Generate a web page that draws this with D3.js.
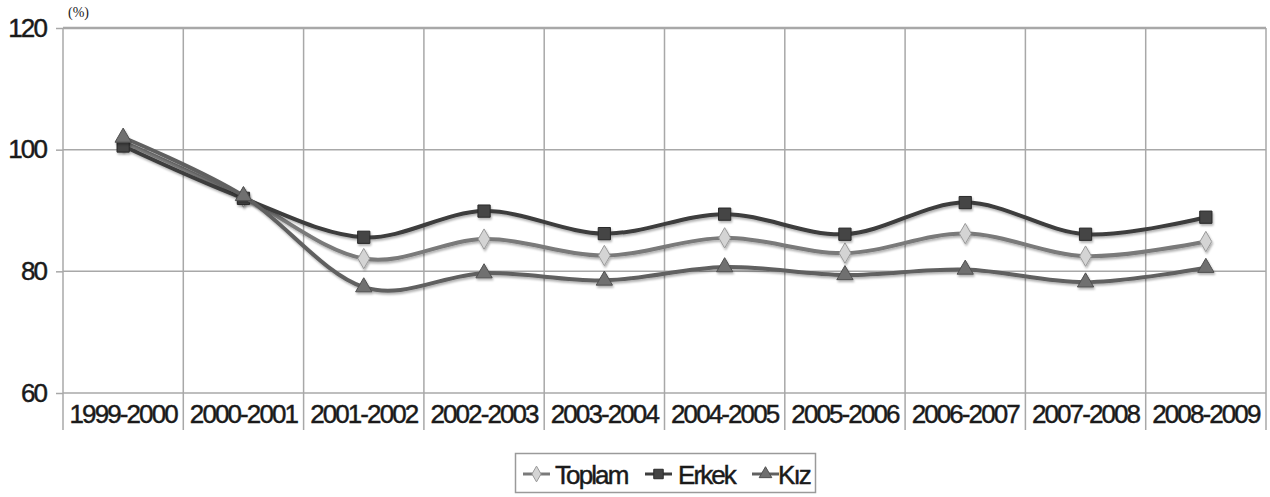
<!DOCTYPE html>
<html>
<head>
<meta charset="utf-8">
<script src="https://cdn.jsdelivr.net/npm/d3@7"></script>
<style>
  html, body { margin: 0; padding: 0; background: #fff; }
  svg { display: block; }
  text { font-family: "Liberation Sans", Arial, sans-serif; fill: #1a1a1a; }
</style>
</head>
<body>
<svg id="chart" width="1270" height="497"></svg>
<script>
const categories = ["1999-2000","2000-2001","2001-2002","2002-2003","2003-2004","2004-2005","2005-2006","2006-2007","2007-2008","2008-2009"];
const toplam = [101.3, 92.2, 82.1, 85.3, 82.6, 85.5, 83.0, 86.2, 82.5, 84.9];
const erkek  = [100.6, 92.0, 85.6, 89.9, 86.2, 89.4, 86.1, 91.3, 86.1, 88.9];
const kiz    = [102.0, 92.4, 77.4, 79.7, 78.5, 80.7, 79.4, 80.3, 78.2, 80.6];
const yTicks = [60, 80, 100, 120];
const seriesNames = ["Toplam", "Erkek", "Kız"];
const unitLabel = "(%)";

const svg = d3.select("#chart");
const plotLeft = 63, plotRight = 1266, plotTop = 28, plotBottom = 393;

const x = d3.scaleBand().domain(categories).range([plotLeft, plotRight]).padding(0);
const y = d3.scaleLinear().domain([60, 120]).range([plotBottom, plotTop]);

const gridColor = "#a8a8a8";

function styleLabel(sel) {
  sel.style("font-family", '"Liberation Sans", Arial, sans-serif')
    .style("font-size", "26px").style("letter-spacing", "-1.9px")
    .attr("fill", "#1a1a1a").attr("stroke", "#1a1a1a").attr("stroke-width", 0.45);
}

// horizontal grid + y axis
const yAxis = d3.axisLeft(y).tickValues(yTicks).tickSize(7).tickPadding(10).tickFormat(d3.format("d"));
const gy = svg.append("g").attr("transform", `translate(${plotLeft},0)`).call(yAxis);
gy.select(".domain").remove();
gy.selectAll(".tick line").attr("stroke", gridColor).attr("stroke-width", 1.5);
gy.selectAll(".tick text").call(styleLabel);

svg.append("g").selectAll("line").data(yTicks).join("line")
  .attr("x1", plotLeft).attr("x2", plotRight)
  .attr("y1", d => y(d)).attr("y2", d => y(d))
  .attr("stroke", gridColor).attr("stroke-width", d => d === 120 ? 2.5 : 1.5);

// vertical category boundaries (extend through label area)
const bounds = categories.map(c => x(c)).concat([plotRight]);
svg.append("g").selectAll("line").data(bounds).join("line")
  .attr("x1", d => d).attr("x2", d => d)
  .attr("y1", plotTop).attr("y2", 430)
  .attr("stroke", gridColor).attr("stroke-width", 1.5);

// x labels
const xAxis = d3.axisBottom(x).tickSize(0).tickPadding(12);
const gx = svg.append("g").attr("transform", `translate(0,${plotBottom})`).call(xAxis);
gx.select(".domain").remove();
gx.selectAll(".tick text").call(styleLabel);

// unit label
svg.append("text").attr("x", 68).attr("y", 17).text(unitLabel)
  .style("font-family", '"Liberation Serif", "Times New Roman", serif')
  .style("font-size", "14px").attr("fill", "#a0a0a0");

// shadow filter
const defs = svg.append("defs");
const f = defs.append("filter").attr("id", "shadow").attr("x", "-5%").attr("y", "-20%").attr("width", "110%").attr("height", "140%");
f.append("feDropShadow").attr("dx", 1).attr("dy", 2).attr("stdDeviation", 1.3).attr("flood-color", "#000").attr("flood-opacity", 0.3);

const cx = c => x(c) + x.bandwidth() / 2;
const line = d3.line().x(d => cx(d.c)).y(d => y(d.v)).curve(d3.curveCatmullRom.alpha(0));

const series = [
  { name: seriesNames[0], values: toplam, stroke: "#7a7a7a", marker: "diamond", fill: "#d4d4d4", mstroke: "#9a9a9a" },
  { name: seriesNames[1], values: erkek,  stroke: "#3d3d3d", marker: "square",  fill: "#444444", mstroke: "#2a2a2a" },
  { name: seriesNames[2], values: kiz,    stroke: "#606060", marker: "triangle", fill: "#6f6f6f", mstroke: "#505050" }
];

const symbolType = { diamond: d3.symbolDiamond, square: d3.symbolSquare, triangle: d3.symbolTriangle };
const symbolSize = { diamond: 120, square: 150, triangle: 115 };

series.forEach(s => {
  const pts = categories.map((c, i) => ({ c, v: s.values[i] }));
  const g = svg.append("g").attr("filter", "url(#shadow)");
  g.append("path").datum(pts).attr("d", line)
    .attr("fill", "none").attr("stroke", s.stroke).attr("stroke-width", 4)
    .attr("stroke-linejoin", "round").attr("stroke-linecap", "round");
  g.selectAll("path.m").data(pts).join("path").attr("class", "m")
    .attr("transform", d => `translate(${cx(d.c)},${y(d.v)})`)
    .attr("d", d3.symbol().type(symbolType[s.marker]).size(symbolSize[s.marker]))
    .attr("fill", s.fill).attr("stroke", s.mstroke).attr("stroke-width", 1);
});

// legend
const lg = svg.append("g");
lg.append("rect").attr("x", 515.5).attr("y", 453.5).attr("width", 300).attr("height", 39)
  .attr("fill", "#fff").attr("stroke", "#9a9a9a").attr("stroke-width", 1.5);
const legendItems = [
  { s: series[0], lx: 523, tx: 555 },
  { s: series[1], lx: 645, tx: 678 },
  { s: series[2], lx: 752, tx: 778 }
];
legendItems.forEach(it => {
  const ly = 474;
  lg.append("line").attr("x1", it.lx).attr("x2", it.lx + 27).attr("y1", ly).attr("y2", ly)
    .attr("stroke", it.s.stroke).attr("stroke-width", 3);
  lg.append("path").attr("transform", `translate(${it.lx + 13.5},${ly})`)
    .attr("d", d3.symbol().type(symbolType[it.s.marker]).size(symbolSize[it.s.marker] * 0.6))
    .attr("fill", it.s.fill).attr("stroke", it.s.mstroke).attr("stroke-width", 1);
  lg.append("text").attr("x", it.tx).attr("y", ly + 9.5).text(it.s.name).call(styleLabel);
});
</script>
</body>
</html>
